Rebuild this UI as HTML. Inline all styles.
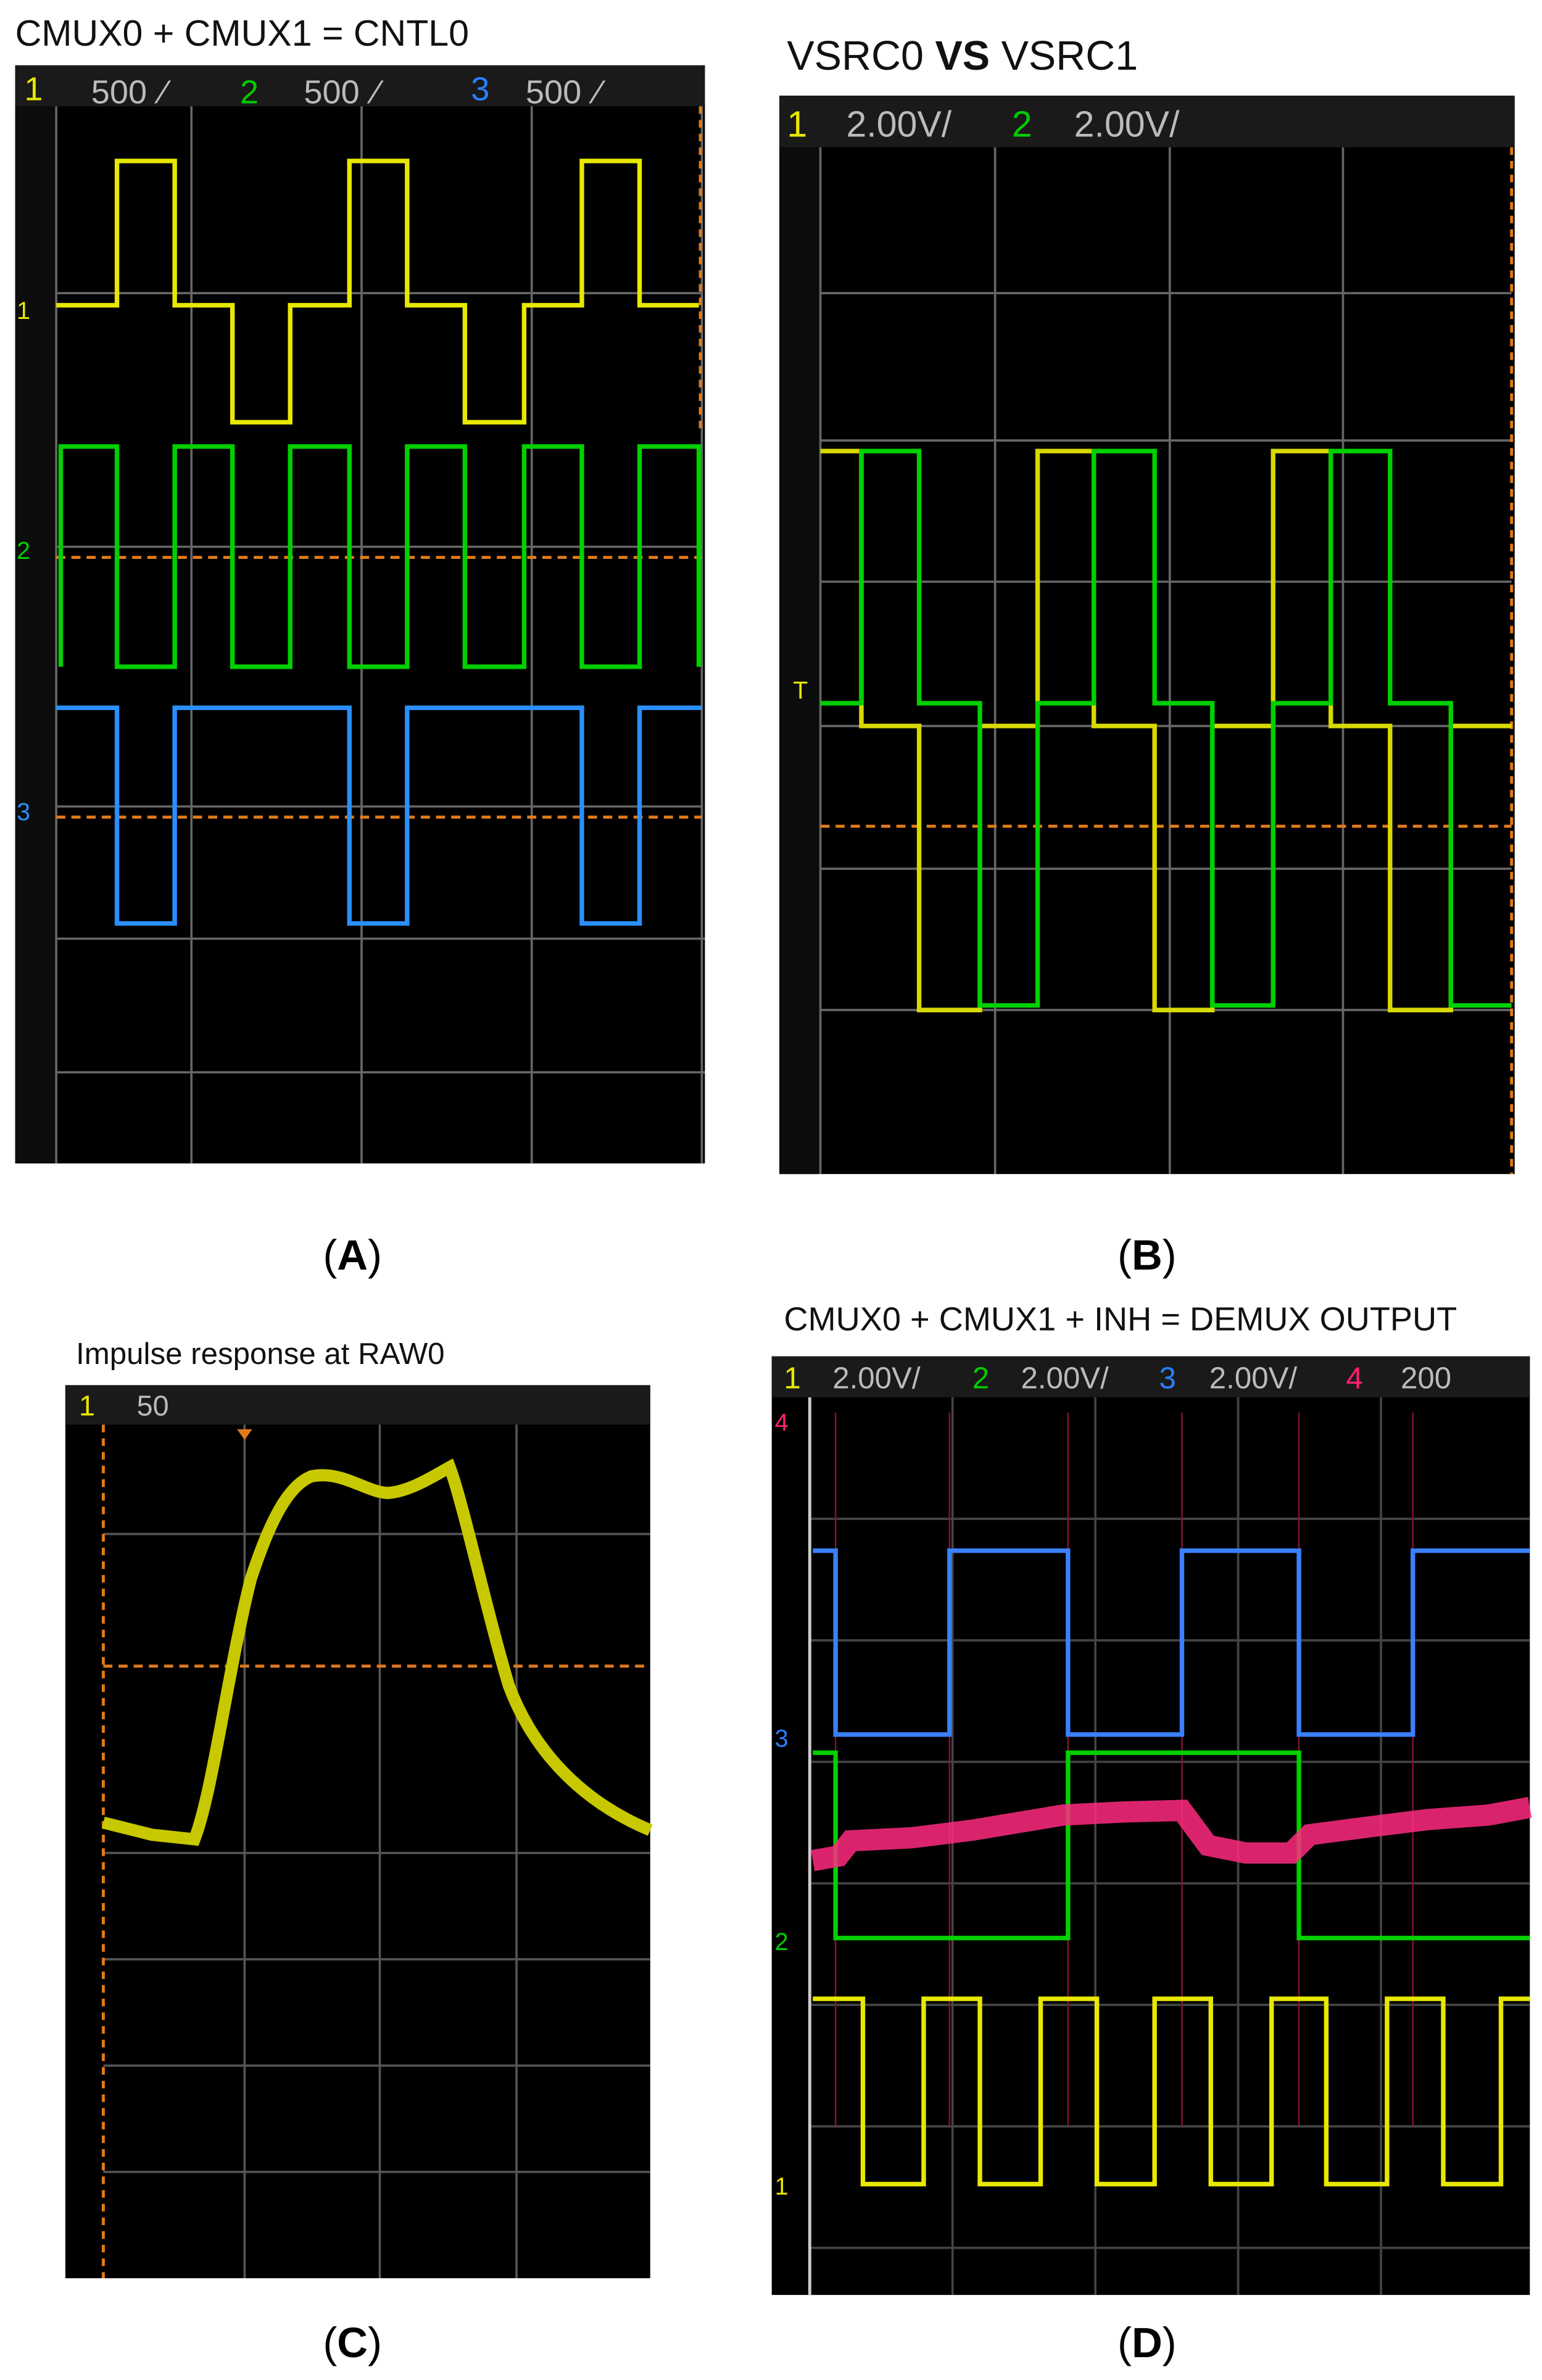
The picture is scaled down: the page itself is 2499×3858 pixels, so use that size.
<!DOCTYPE html>
<html><head><meta charset="utf-8"><style>
html,body{margin:0;padding:0;background:#fff;}
svg{display:block;}
text{font-family:"Liberation Sans",sans-serif;}
</style></head><body>
<svg width="2499" height="3858" viewBox="0 0 1015 1567" preserveAspectRatio="none" xmlns="http://www.w3.org/2000/svg">
<rect width="1024" height="1581" fill="#fff"/>

<!-- Panel A -->
<text x="10" y="30" font-size="24" fill="#111">CMUX0 + CMUX1 = CNTL0</text>
<rect x="10" y="43" width="454" height="723" fill="#000"/>
<rect x="10" y="43" width="454" height="27" fill="#1a1a1a"/>
<rect x="10" y="70" width="26" height="696" fill="#0c0c0c"/>
<text x="16" y="66" font-size="22" fill="#e8e800">1</text>
<text x="60" y="68" font-size="22" fill="#bbb">500</text><text x="106" y="68" font-size="22" fill="#bbb">⁄</text>
<text x="158" y="68" font-size="22" fill="#0c0">2</text>
<text x="200" y="68" font-size="22" fill="#bbb">500</text><text x="246" y="68" font-size="22" fill="#bbb">⁄</text>
<text x="310" y="66" font-size="22" fill="#2a7fff">3</text>
<text x="346" y="68" font-size="22" fill="#bbb">500</text><text x="392" y="68" font-size="22" fill="#bbb">⁄</text>
<g stroke="#666" stroke-width="1.5">
<line x1="37" y1="70" x2="37" y2="766"/><line x1="126" y1="70" x2="126" y2="766"/><line x1="238" y1="70" x2="238" y2="766"/><line x1="350" y1="70" x2="350" y2="766"/><line x1="462" y1="70" x2="462" y2="766"/>
<line x1="37" y1="193" x2="462" y2="193"/><line x1="37" y1="360" x2="462" y2="360"/><line x1="37" y1="531" x2="462" y2="531"/><line x1="37" y1="618" x2="464" y2="618"/><line x1="37" y1="706" x2="464" y2="706"/>
</g>
<line x1="461" y1="70" x2="461" y2="282" stroke="#e07a1a" stroke-width="2" stroke-dasharray="5,4"/>
<line x1="37" y1="367" x2="462" y2="367" stroke="#e07a1a" stroke-width="2" stroke-dasharray="6,4"/>
<line x1="37" y1="538" x2="462" y2="538" stroke="#e07a1a" stroke-width="2" stroke-dasharray="6,4"/>
<polyline fill="none" stroke="#e8e800" stroke-width="3" points="37,201 77,201 77,106 115,106 115,201 153,201 153,278 191,278 191,201 230,201 230,106 268,106 268,201 306,201 306,278 345,278 345,201 383,201 383,106 421,106 421,201 460,201"/>
<polyline fill="none" stroke="#00d000" stroke-width="3" points="40,439 40,294 77,294 77,439 115,439 115,294 153,294 153,439 191,439 191,294 230,294 230,439 268,439 268,294 306,294 306,439 345,439 345,294 383,294 383,439 421,439 421,294 460,294 460,439"/>
<polyline fill="none" stroke="#2a8fff" stroke-width="3" points="37,466 77,466 77,608 115,608 115,466 230,466 230,608 268,608 268,466 383,466 383,608 421,608 421,466 462,466"/>
<text x="11" y="210" font-size="16" fill="#e8e800">1</text>
<text x="11" y="368" font-size="16" fill="#00d000">2</text>
<text x="11" y="540" font-size="16" fill="#2a8fff">3</text>
<text x="232" y="836" font-size="28" font-family="Liberation Serif,serif" text-anchor="middle" fill="#000">(<tspan font-weight="bold">A</tspan>)</text>

<!-- Panel B -->
<text x="518" y="46" font-size="27" fill="#111">VSRC0 <tspan font-weight="bold">VS</tspan> VSRC1</text>
<rect x="513" y="63" width="484" height="710" fill="#000"/>
<rect x="513" y="63" width="484" height="34" fill="#1a1a1a"/>
<rect x="513" y="97" width="26" height="676" fill="#0c0c0c"/>
<text x="518" y="90" font-size="24" fill="#e8e800">1</text>
<text x="557" y="90" font-size="24" fill="#bbb">2.00V/</text>
<text x="666" y="90" font-size="24" fill="#0c0">2</text>
<text x="707" y="90" font-size="24" fill="#bbb">2.00V/</text>
<g stroke="#666" stroke-width="1.5">
<line x1="540" y1="97" x2="540" y2="773"/><line x1="655" y1="97" x2="655" y2="773"/><line x1="770" y1="97" x2="770" y2="773"/><line x1="884" y1="97" x2="884" y2="773"/>
<line x1="540" y1="193" x2="995" y2="193"/><line x1="540" y1="290" x2="995" y2="290"/><line x1="540" y1="383" x2="995" y2="383"/><line x1="540" y1="478" x2="995" y2="478"/><line x1="540" y1="572" x2="995" y2="572"/><line x1="540" y1="665" x2="995" y2="665"/>
</g>
<line x1="995" y1="97" x2="995" y2="773" stroke="#e07a1a" stroke-width="2" stroke-dasharray="5,4"/>
<line x1="540" y1="544" x2="995" y2="544" stroke="#e07a1a" stroke-width="2" stroke-dasharray="6,4"/>
<polyline fill="none" stroke="#d8d800" stroke-width="3" points="540,297 567,297 567,478 605,478 605,665 645,665 645,478 683,478 683,297 720,297 720,478 760,478 760,665 798,665 798,478 838,478 838,297 876,297 876,478 915,478 915,665 955,665 955,478 995,478"/>
<polyline fill="none" stroke="#00d000" stroke-width="3" points="540,463 567,463 567,297 605,297 605,463 645,463 645,662 683,662 683,463 720,463 720,297 760,297 760,463 798,463 798,662 838,662 838,463 876,463 876,297 915,297 915,463 955,463 955,662 995,662"/>
<text x="522" y="460" font-size="16" fill="#e8e800">T</text>
<text x="755" y="836" font-size="28" font-family="Liberation Serif,serif" text-anchor="middle" fill="#000">(<tspan font-weight="bold">B</tspan>)</text>

<!-- Panel C -->
<text x="50" y="898" font-size="20" fill="#111">Impulse response at RAW0</text>
<rect x="43" y="912" width="385" height="588" fill="#000"/>
<rect x="43" y="912" width="385" height="26" fill="#1a1a1a"/>
<text x="52" y="932" font-size="19" fill="#e8e800">1</text>
<text x="90" y="932" font-size="19" fill="#bbb">50</text>
<g stroke="#555" stroke-width="1.5">
<line x1="161" y1="938" x2="161" y2="1500"/><line x1="250" y1="938" x2="250" y2="1500"/><line x1="340" y1="938" x2="340" y2="1500"/>
<line x1="68" y1="1010" x2="428" y2="1010"/><line x1="68" y1="1220" x2="428" y2="1220"/><line x1="68" y1="1290" x2="428" y2="1290"/><line x1="68" y1="1360" x2="428" y2="1360"/><line x1="68" y1="1430" x2="428" y2="1430"/>
</g>
<line x1="68" y1="938" x2="68" y2="1500" stroke="#e07a1a" stroke-width="2" stroke-dasharray="5,4"/>
<line x1="68" y1="1097" x2="428" y2="1097" stroke="#e07a1a" stroke-width="2" stroke-dasharray="6,4"/>
<polygon points="156,941 166,941 161,948" fill="#e07a1a"/>
<path d="M68,1200 L100,1208 L128,1211 C140,1180 150,1100 165,1040 C178,1000 190,978 205,972 C225,968 240,982 255,983 C270,982 285,972 296,966 C305,990 320,1060 335,1110 C350,1150 380,1185 428,1205" fill="none" stroke="#c8c800" stroke-width="8"/>
<text x="232" y="1552" font-size="28" font-family="Liberation Serif,serif" text-anchor="middle" fill="#000">(<tspan font-weight="bold">C</tspan>)</text>

<!-- Panel D -->
<text x="516" y="876" font-size="22" fill="#111">CMUX0 + CMUX1 + INH = DEMUX OUTPUT</text>
<rect x="508" y="893" width="499" height="618" fill="#000"/>
<rect x="508" y="893" width="499" height="27" fill="#1a1a1a"/>
<text x="516" y="914" font-size="20" fill="#e8e800">1</text><text x="548" y="914" font-size="20" fill="#bbb">2.00V/</text>
<text x="640" y="914" font-size="20" fill="#0c0">2</text><text x="672" y="914" font-size="20" fill="#bbb">2.00V/</text>
<text x="763" y="914" font-size="20" fill="#2a7fff">3</text><text x="796" y="914" font-size="20" fill="#bbb">2.00V/</text>
<text x="886" y="914" font-size="20" fill="#ff2070">4</text><text x="922" y="914" font-size="20" fill="#bbb">200</text>
<g stroke="#444" stroke-width="1.5">
<line x1="533" y1="920" x2="533" y2="1511"/><line x1="627" y1="920" x2="627" y2="1511"/><line x1="721" y1="920" x2="721" y2="1511"/><line x1="815" y1="920" x2="815" y2="1511"/><line x1="909" y1="920" x2="909" y2="1511"/>
<line x1="533" y1="1000" x2="1007" y2="1000"/><line x1="533" y1="1080" x2="1007" y2="1080"/><line x1="533" y1="1160" x2="1007" y2="1160"/><line x1="533" y1="1240" x2="1007" y2="1240"/><line x1="533" y1="1320" x2="1007" y2="1320"/><line x1="533" y1="1400" x2="1007" y2="1400"/><line x1="533" y1="1480" x2="1007" y2="1480"/>
</g>
<line x1="533" y1="920" x2="533" y2="1511" stroke="#ccc" stroke-width="2"/>
<g stroke="#8a1030" stroke-width="1">
<line x1="550" y1="930" x2="550" y2="1400"/><line x1="625" y1="930" x2="625" y2="1400"/><line x1="703" y1="930" x2="703" y2="1400"/><line x1="778" y1="930" x2="778" y2="1400"/><line x1="855" y1="930" x2="855" y2="1400"/><line x1="930" y1="930" x2="930" y2="1400"/>
</g>
<g fill="none" stroke-width="3">
<polyline stroke="#3a80ff" points="535,1021 550,1021 550,1142 625,1142 625,1021 703,1021 703,1142 778,1142 778,1021 855,1021 855,1142 930,1142 930,1021 1007,1021"/>
<polyline stroke="#00d000" points="535,1154 550,1154 550,1276 703,1276 703,1154 855,1154 855,1276 1007,1276"/>
<polyline stroke="#e8e800" points="535,1316 568,1316 568,1438 608,1438 608,1316 645,1316 645,1438 685,1438 685,1316 722,1316 722,1438 760,1438 760,1316 797,1316 797,1438 837,1438 837,1316 873,1316 873,1438 913,1438 913,1316 950,1316 950,1438 988,1438 988,1316 1007,1316"/>
</g>
<polyline fill="none" stroke="#ff2a80" stroke-width="14" opacity="0.85" points="535,1225 552,1222 560,1212 600,1210 640,1205 700,1195 740,1193 778,1192 795,1215 820,1220 850,1220 862,1208 900,1203 940,1198 980,1195 1007,1190"/>
<text x="510" y="942" font-size="16" fill="#ff2070">4</text>
<text x="510" y="1150" font-size="16" fill="#2a7fff">3</text>
<text x="510" y="1284" font-size="16" fill="#00d000">2</text>
<text x="510" y="1445" font-size="16" fill="#e8e800">1</text>
<text x="755" y="1552" font-size="28" font-family="Liberation Serif,serif" text-anchor="middle" fill="#000">(<tspan font-weight="bold">D</tspan>)</text>
</svg>
</body></html>
